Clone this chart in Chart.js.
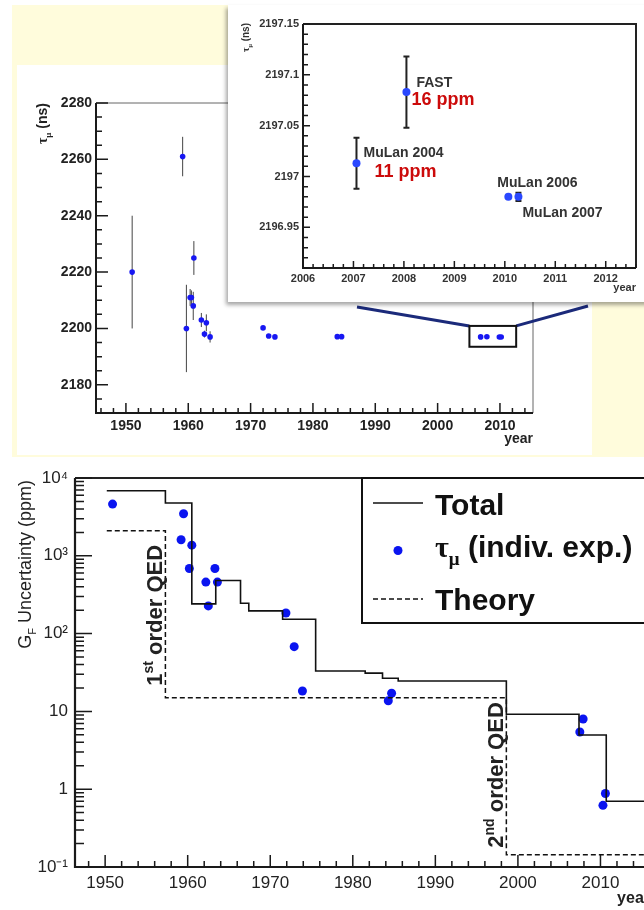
<!DOCTYPE html>
<html>
<head>
<meta charset="utf-8">
<title>Muon lifetime and G_F uncertainty</title>
<script src="https://cdn.jsdelivr.net/npm/chart.js@4.4.1/dist/chart.umd.min.js"></script>
<style>
  html, body { margin:0; padding:0; background:#fff; }
  body { width:644px; height:910px; overflow:hidden; position:relative; font-family:Arial, "Liberation Sans", sans-serif; }
  #yellow { position:absolute; left:12px; top:5px; width:632px; height:452px; background:#fffcdc; }
  #whiteBox { position:absolute; left:17px; top:65px; width:575px; height:390px; background:#fff; }
  #tauCanvas { position:absolute; left:0; top:0; }
  #insetBox { position:absolute; left:228px; top:5px; width:430px; height:297px; background:#fff;
              box-shadow:-2px 3px 4px rgba(0,0,0,.35); }
  #insetCanvas { position:absolute; left:0; top:0; }
  #gfCanvas { position:absolute; left:0; top:460px; }
</style>
</head>
<body>
<div id="yellow"></div>
<div id="whiteBox"></div>
<canvas id="tauCanvas" width="644" height="460"></canvas>
<div id="insetBox"><canvas id="insetCanvas" width="416" height="297"></canvas></div>
<canvas id="gfCanvas" width="700" height="450"></canvas>

<script>
// ---- data ----

// muon lifetime measurements (top panel)
const tauYears  = [1951.0, 1959.1, 1959.7, 1960.3, 1960.5, 1960.9, 1960.8, 1962.1, 1962.6, 1962.9, 1963.5,
                   1972.0, 1972.9, 1973.9, 1983.9, 1984.6, 2006.9, 2007.9, 2009.9, 2010.2];
const tauValues = [2220, 2261, 2200, 2211, 2211, 2225, 2208, 2203, 2198, 2202, 2197,
                   2200.2, 2197.3, 2197.0, 2197.1, 2197.1, 2197.01, 2197.08, 2196.98, 2196.98];
const tauErrors = [20, 7, 15.5, 3, 2.5, 6, 5, 2.5, 1.2, 3, 2,
                   0.6, 0.4, 0.2, 0.1, 0.1, 0.03, 0.04, 0.01, 0.01];
const tauYearTicks  = [1950, 1960, 1970, 1980, 1990, 2000, 2010];
const tauValueTicks = [2180, 2200, 2220, 2240, 2260, 2280];

// recent experiments (inset)
const insetYears  = [2007.06, 2008.05, 2010.07, 2010.27];
const insetValues = [2197.013, 2197.083, 2196.980, 2196.980];
const insetErrors = [0.025, 0.035, 0, 0.004];
const insetNames  = ['MuLan 2004', 'FAST', 'MuLan 2006', 'MuLan 2007'];
const insetPpm    = ['11 ppm', '16 ppm', '', ''];
const insetYearTicks   = [2006, 2007, 2008, 2009, 2010, 2011, 2012];
const insetValueTicks  = [2196.95, 2197, 2197.05, 2197.1, 2197.15];
const insetValueLabels = ['2196.95', '2197', '2197.05', '2197.1', '2197.15'];

// G_F uncertainty (bottom panel)
const totalYears  = [1950.2, 1957.3, 1960.5, 1963.4, 1966.4, 1967.4, 1971.5, 1975.5, 1981.5, 1983.6, 1985.5, 1998.6, 2007.4, 2010.7, 2016];
const totalPpm    = [6870, 4770, 241, 481, 245, 196, 153, 33, 31, 26.7, 24.6, 9.2, 4.97, 0.70, 0.70];
const theoryYears = [1950.2, 1957.3, 1998.6, 2016];
const theoryPpm   = [2100, 15, 0.144, 0.144];
const expYears = [1950.9, 1959.5, 1959.2, 1960.5, 1960.2, 1962.2, 1963.3, 1963.6, 1962.5,
                  1971.9, 1972.9, 1973.9, 1984.3, 1984.7, 2007.9, 2007.5, 2010.6, 2010.3];
const expPpm   = [4620, 3470, 1610, 1370, 687, 459, 687, 459, 227,
                  184, 68, 18.3, 13.7, 17.1, 7.98, 5.43, 0.88, 0.62];
const gfYearTicks = [1950, 1960, 1970, 1980, 1990, 2000, 2010];
const gfPpmTicks  = [0.1, 1, 10, 100, 1000, 10000];
const gfPpmLabels = ['10⁻¹', '1', '10', '10²', '10³', '10⁴'];

// ---- helpers ----
const FONT  = 'Arial, "Liberation Sans", sans-serif';
const SERIF = '"Liberation Serif", "Times New Roman", serif';

// text with sub/superscripts, optionally rotated to read bottom-to-top
function richText(ctx, x, y, parts, opt) {
  const size = opt.size;
  const fnt = p => `${opt.weight || 'normal'} ${(p.sub || p.sup) ? Math.round(size * 0.62) : size}px ${p.serif ? SERIF : FONT}`;
  ctx.save();
  ctx.translate(x, y);
  if (opt.rotate) ctx.rotate(-Math.PI / 2);
  ctx.fillStyle = opt.color || '#111';
  ctx.textBaseline = 'alphabetic';
  ctx.textAlign = 'left';
  let w = 0;
  parts.forEach(p => { ctx.font = fnt(p); w += ctx.measureText(p.t).width; });
  let cx = opt.align === 'right' ? -w : opt.align === 'center' ? -w / 2 : 0;
  parts.forEach(p => {
    ctx.font = fnt(p);
    const dy = p.sub ? size * 0.28 : p.sup ? -size * 0.42 : 0;
    ctx.fillText(p.t, cx, dy);
    cx += ctx.measureText(p.t).width;
  });
  ctx.restore();
}

function linearTicks(scale, major, minor, majLen, minLen) {
  const out = [];
  const n0 = Math.ceil(scale.min / minor - 1e-7), n1 = Math.floor(scale.max / minor + 1e-7);
  for (let n = n0; n <= n1; n++) {
    const v = n * minor, r = v / major;
    out.push([v, Math.abs(r - Math.round(r)) < 1e-6 ? majLen : minLen]);
  }
  return out;
}

function logTicks(scale, majLen, minLen) {
  const out = [];
  for (let e = Math.floor(Math.log10(scale.min)); e <= Math.ceil(Math.log10(scale.max)); e++) {
    for (let m = 1; m <= 9; m++) {
      const v = m * Math.pow(10, e);
      if (v >= scale.min * 0.999 && v <= scale.max * 1.001) out.push([v, m === 1 ? majLen : minLen]);
    }
  }
  return out;
}

// ROOT-like frame with inward tick marks
function rootFrame(o) {
  return {
    id: 'rootFrame',
    afterDatasetsDraw(chart) {
      const {ctx, chartArea: a, scales: {x, y}} = chart;
      ctx.save();
      ctx.strokeStyle = o.thinColor || '#222';
      ctx.lineWidth = o.thin;
      ctx.beginPath(); ctx.moveTo(a.left, a.top); ctx.lineTo(a.right, a.top); ctx.lineTo(a.right, a.bottom); ctx.stroke();
      ctx.strokeStyle = '#1a1a1a';
      ctx.lineWidth = o.thick;
      ctx.beginPath(); ctx.moveTo(a.left, a.top); ctx.lineTo(a.left, a.bottom); ctx.lineTo(a.right, a.bottom); ctx.stroke();
      ctx.lineWidth = o.tickWidth;
      ctx.beginPath();
      o.xTicks(x).forEach(([v, len]) => { const px = x.getPixelForValue(v); ctx.moveTo(px, a.bottom); ctx.lineTo(px, a.bottom - len); });
      o.yTicks(y).forEach(([v, len]) => { const py = y.getPixelForValue(v); ctx.moveTo(a.left, py); ctx.lineTo(a.left + len, py); });
      ctx.stroke();
      ctx.restore();
    }
  };
}

function errorBars(xs, ys, errs, o) {
  return {
    id: 'errorBars',
    beforeDatasetsDraw(chart) {
      const {ctx, scales: {x, y}} = chart;
      ctx.save();
      ctx.strokeStyle = o.color; ctx.lineWidth = o.width;
      ctx.beginPath();
      xs.forEach((xv, i) => {
        if (!errs[i]) return;
        const px = x.getPixelForValue(xv);
        const lo = y.getPixelForValue(ys[i] - errs[i]), hi = y.getPixelForValue(ys[i] + errs[i]);
        ctx.moveTo(px, lo); ctx.lineTo(px, hi);
        if (o.cap) {
          ctx.moveTo(px - o.cap, lo); ctx.lineTo(px + o.cap, lo);
          ctx.moveTo(px - o.cap, hi); ctx.lineTo(px + o.cap, hi);
        }
      });
      ctx.stroke();
      ctx.restore();
    }
  };
}

const pts = (xs, ys) => xs.map((x, i) => ({x, y: ys[i]}));
const common = { responsive: false, animation: false, events: [],
                 plugins: { legend: {display: false}, tooltip: {enabled: false} } };

// ---- top panel: tau_mu vs year ----
new Chart(document.getElementById('tauCanvas'), {
  type: 'scatter',
  data: { datasets: [{ data: pts(tauYears, tauValues), pointRadius: 2.8, pointBackgroundColor: '#1717f2', pointBorderWidth: 0 }] },
  options: Object.assign({}, common, {
    layout: { padding: { left: 0, top: 103, right: 111, bottom: 0 } },
    scales: {
      x: { type: 'linear', min: 1945.2, max: 2015.3,
           grid: {display: false, drawTicks: false}, border: {display: false},
           afterBuildTicks: s => { s.ticks = tauYearTicks.map(v => ({value: v})); },
           afterFit: s => { s.height = 47; },
           ticks: { padding: 5, color: '#222', maxRotation: 0, autoSkip: false,
                    font: {family: FONT, size: 14, weight: 'bold'}, callback: v => String(v) } },
      y: { min: 2170, max: 2280,
           grid: {display: false, drawTicks: false}, border: {display: false},
           afterBuildTicks: s => { s.ticks = tauValueTicks.map(v => ({value: v})); },
           afterFit: s => { s.width = 96; },
           ticks: { padding: 4, color: '#222', autoSkip: false,
                    font: {family: FONT, size: 14, weight: 'bold'}, callback: v => String(v) } }
    }
  }),
  plugins: [
    errorBars(tauYears, tauValues, tauErrors, {color: '#444', width: 1}),
    rootFrame({ thin: 1, thinColor: '#666', thick: 2, tickWidth: 1.5,
                xTicks: s => linearTicks(s, 10, 2, 10, 5),
                yTicks: s => linearTicks(s, 20, 5, 12, 6) }),
    { id: 'tauDecor', afterDraw(chart) {
        const {ctx, chartArea: a, scales: {x, y}} = chart;
        // zoom window around the recent measurements
        const x0 = x.getPixelForValue(2005.1), x1 = x.getPixelForValue(2012.6);
        const y0 = y.getPixelForValue(2200.9), y1 = y.getPixelForValue(2193.5);
        ctx.save();
        ctx.strokeStyle = '#1b2a7a'; ctx.lineWidth = 3;
        ctx.beginPath();
        ctx.moveTo(x0, y0); ctx.lineTo(357, 307);
        ctx.moveTo(x1, y0); ctx.lineTo(588, 306);
        ctx.stroke();
        ctx.strokeStyle = '#111'; ctx.lineWidth = 2;
        ctx.strokeRect(x0, y0, x1 - x0, y1 - y0);
        ctx.restore();
        richText(ctx, 47, a.top, [{t: 'τ', serif: true}, {t: 'μ', serif: true, sub: true}, {t: ' (ns)'}],
                 {size: 14, weight: 'bold', rotate: true, align: 'right', color: '#222'});
        richText(ctx, a.right, a.bottom + 30, [{t: 'year'}], {size: 14, weight: 'bold', align: 'right', color: '#222'});
    } }
  ]
});

// ---- inset: recent experiments ----
new Chart(document.getElementById('insetCanvas'), {
  type: 'scatter',
  data: { datasets: [{ data: pts(insetYears, insetValues), pointRadius: 4, pointBackgroundColor: '#2a48ff', pointBorderWidth: 0 }] },
  options: Object.assign({}, common, {
    layout: { padding: { left: 0, top: 19, right: 8, bottom: 0 } },
    scales: {
      x: { type: 'linear', min: 2006, max: 2012.6,
           grid: {display: false, drawTicks: false}, border: {display: false},
           afterBuildTicks: s => { s.ticks = insetYearTicks.map(v => ({value: v})); },
           afterFit: s => { s.height = 34; },
           ticks: { padding: 4, color: '#333', maxRotation: 0, autoSkip: false,
                    font: {family: FONT, size: 11, weight: 'bold'}, callback: v => String(v) } },
      y: { min: 2196.91, max: 2197.15,
           grid: {display: false, drawTicks: false}, border: {display: false},
           afterBuildTicks: s => { s.ticks = insetValueTicks.map(v => ({value: v})); },
           afterFit: s => { s.width = 75; },
           ticks: { padding: 4, color: '#333', autoSkip: false,
                    font: {family: FONT, size: 11, weight: 'bold'}, callback: (v, i) => insetValueLabels[i] } }
    }
  }),
  plugins: [
    errorBars(insetYears, insetValues, insetErrors, {color: '#222', width: 2, cap: 3}),
    rootFrame({ thin: 2, thick: 2, tickWidth: 1.5,
                xTicks: s => linearTicks(s, 1, 0.2, 7, 4),
                yTicks: s => linearTicks(s, 0.05, 0.01, 7, 5) }),
    { id: 'insetLabels', afterDraw(chart) {
        const {ctx, chartArea: a, scales: {x, y}} = chart;
        // label offsets from each point: [name dx, name dy, ppm dx, ppm dy]
        const off = { 'MuLan 2004': [7, -6, 18, 14], 'FAST': [10, -5, 5, 13],
                      'MuLan 2006': [-11, -10, 0, 0], 'MuLan 2007': [4, 20, 0, 0] };
        insetNames.forEach((name, i) => {
          const px = x.getPixelForValue(insetYears[i]), py = y.getPixelForValue(insetValues[i]);
          const o = off[name];
          richText(ctx, px + o[0], py + o[1], [{t: name}], {size: 14, weight: 'bold', color: '#333'});
          if (insetPpm[i]) richText(ctx, px + o[2], py + o[3], [{t: insetPpm[i]}], {size: 18, weight: 'bold', color: '#cc0a0a'});
        });
        richText(ctx, 21, 18, [{t: 'τ', serif: true}, {t: 'μ', serif: true, sub: true}, {t: ' (ns)'}],
                 {size: 10, weight: 'bold', rotate: true, align: 'right', color: '#333'});
        richText(ctx, a.right, a.bottom + 23, [{t: 'year'}], {size: 11, weight: 'bold', align: 'right', color: '#333'});
    } }
  ]
});

// ---- bottom panel: G_F uncertainty ----
const BLUE = '#0a14f0';
new Chart(document.getElementById('gfCanvas'), {
  type: 'scatter',
  data: { datasets: [
    { label: 'Total', data: pts(totalYears, totalPpm), showLine: true, stepped: 'before',
      borderColor: '#111', borderWidth: 1.6, pointRadius: 0, fill: false },
    { label: 'Theory', data: pts(theoryYears, theoryPpm), showLine: true, stepped: 'before',
      borderColor: '#111', borderWidth: 1.5, borderDash: [5, 3], pointRadius: 0, fill: false },
    { label: 'tau_mu (indiv. exp.)', data: pts(expYears, expPpm), pointRadius: 4.5,
      pointBackgroundColor: BLUE, pointBorderWidth: 0 }
  ] },
  options: Object.assign({}, common, {
    layout: { padding: { left: 0, top: 18, right: 50, bottom: 0 } },
    scales: {
      x: { type: 'linear', min: 1946.35, max: 2016,
           grid: {display: false, drawTicks: false}, border: {display: false},
           afterBuildTicks: s => { s.ticks = gfYearTicks.map(v => ({value: v})); },
           afterFit: s => { s.height = 43; },
           ticks: { padding: 6, color: '#222', maxRotation: 0, autoSkip: false,
                    font: {family: FONT, size: 17}, callback: v => String(v) } },
      y: { type: 'logarithmic', min: 0.1, max: 10000,
           grid: {display: false, drawTicks: false}, border: {display: false},
           afterBuildTicks: s => { s.ticks = gfPpmTicks.map(v => ({value: v})); },
           afterFit: s => { s.width = 75; },
           ticks: { padding: 7, color: '#222', autoSkip: false,
                    font: {family: FONT, size: 17}, callback: (v, i) => gfPpmLabels[i] } }
    }
  }),
  plugins: [
    rootFrame({ thin: 2, thick: 2.2, tickWidth: 1.5,
                xTicks: s => linearTicks(s, 10, 2, 12, 6),
                yTicks: s => logTicks(s, 17, 9) }),
    { id: 'gfDecor', afterDraw(chart) {
        const {ctx, chartArea: a, scales: {x, y}} = chart;
        // theory annotations next to the dashed steps
        richText(ctx, x.getPixelForValue(theoryYears[1]) - 3, y.getPixelForValue(theoryPpm[1]) - 12,
                 [{t: '1'}, {t: 'st', sup: true}, {t: ' order QED'}], {size: 22, weight: 'bold', rotate: true, color: '#222'});
        richText(ctx, x.getPixelForValue(theoryYears[2]) - 3, y.getPixelForValue(theoryPpm[2]) - 7,
                 [{t: '2'}, {t: 'nd', sup: true}, {t: ' order QED'}], {size: 22, weight: 'bold', rotate: true, color: '#222'});
        // axis titles
        richText(ctx, 31, a.top + 2, [{t: 'G'}, {t: 'F', sub: true}, {t: ' Uncertainty (ppm)'}],
                 {size: 18, rotate: true, align: 'right', color: '#222'});
        richText(ctx, a.right, a.bottom + 36, [{t: 'year'}], {size: 16, weight: 'bold', align: 'right', color: '#222'});
        // legend box
        const L = a.left + 287, T = a.top, B = a.top + 145;
        ctx.save();
        ctx.strokeStyle = '#111'; ctx.lineWidth = 2;
        ctx.beginPath(); ctx.moveTo(chart.width, T); ctx.lineTo(L, T); ctx.lineTo(L, B); ctx.lineTo(chart.width, B); ctx.stroke();
        ctx.lineWidth = 1.5;
        ctx.beginPath(); ctx.moveTo(L + 11, T + 25); ctx.lineTo(L + 61, T + 25); ctx.stroke();
        ctx.setLineDash([5, 3]);
        ctx.beginPath(); ctx.moveTo(L + 11, T + 121); ctx.lineTo(L + 61, T + 121); ctx.stroke();
        ctx.setLineDash([]);
        ctx.fillStyle = BLUE;
        ctx.beginPath(); ctx.arc(L + 36, T + 72.5, 4.5, 0, 2 * Math.PI); ctx.fill();
        ctx.restore();
        richText(ctx, L + 73, T + 37, [{t: 'Total'}], {size: 30, weight: 'bold'});
        richText(ctx, L + 73, T + 79, [{t: 'τ', serif: true}, {t: 'μ', serif: true, sub: true}, {t: ' (indiv. exp.)'}], {size: 30, weight: 'bold'});
        richText(ctx, L + 73, T + 132, [{t: 'Theory'}], {size: 30, weight: 'bold'});
    } }
  ]
});
</script>
</body>
</html>
